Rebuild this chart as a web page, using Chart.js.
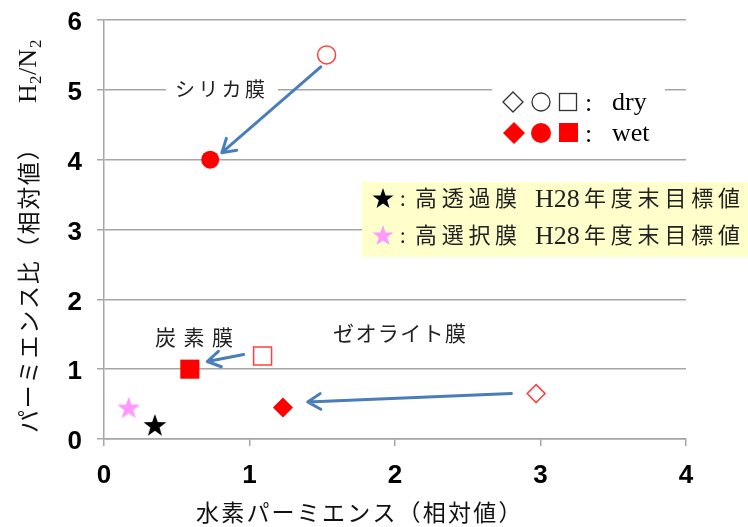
<!DOCTYPE html>
<html>
<head>
<meta charset="utf-8">
<script src="https://cdn.jsdelivr.net/npm/chart.js@4/dist/chart.umd.min.js"></script>
<style>
  html, body { margin: 0; background: #fff; }
  #wrap { width: 748px; height: 527px; position: relative; }
</style>
</head>
<body>
<div id="wrap"><canvas id="c"></canvas></div>
<script>
// --- data ---
const membranes = ['シリカ膜', '炭素膜', 'ゼオライト膜'];
const dryX = [1.53, 1.09, 2.97];   // open marks (dry)
const dryY = [5.50, 1.19, 0.65];
const wetX = [0.73, 0.59, 1.23];   // filled marks (wet)
const wetY = [4.00, 1.00, 0.45];
const targetLabels = ['高透過膜', '高選択膜'];
const targetX = [0.35, 0.17];      // H28 targets (stars)
const targetY = [0.20, 0.45];
// arrows dry -> wet, in data units
const arrowFromX = [1.49, 0.96, 2.80];
const arrowFromY = [5.33, 1.21, 0.65];
const arrowToX = [0.81, 0.71, 1.40];
const arrowToY = [4.10, 1.11, 0.53];
const xTicks = [0, 1, 2, 3, 4];
const yTicks = [0, 1, 2, 3, 4, 5, 6];

const JP = '"Noto Sans CJK JP", "Noto Sans", sans-serif';
const SERIF = '"Liberation Serif", "DejaVu Serif", serif';
const RED = '#ff0000';
const BLUE = '#4a7ebb';

function starImg(color, size) {
  const c = document.createElement('canvas');
  c.width = c.height = size;
  const g = c.getContext('2d');
  starPath(g, size / 2, size / 2 + 1, size / 2, size / 2 * 0.4);
  g.fillStyle = color;
  g.fill();
  return c;
}
function starPath(g, cx, cy, ro, ri) {
  g.beginPath();
  for (let i = 0; i < 10; i++) {
    const r = i % 2 ? ri : ro;
    const a = -Math.PI / 2 + i * Math.PI / 5;
    g.lineTo(cx + r * Math.cos(a), cy + r * Math.sin(a));
  }
  g.closePath();
}

// draw text one char at a time with a fixed advance
function drawSpaced(ctx, text, x, y, adv) {
  [...text].forEach((ch, i) => ctx.fillText(ch, x + i * adv, y));
}

function arrow(ctx, x1, y1, x2, y2) {
  const a = Math.atan2(y2 - y1, x2 - x1), h = 15, s = 0.55;
  ctx.beginPath();
  ctx.moveTo(x1, y1); ctx.lineTo(x2, y2);
  ctx.moveTo(x2 - h * Math.cos(a - s), y2 - h * Math.sin(a - s));
  ctx.lineTo(x2, y2);
  ctx.lineTo(x2 - h * Math.cos(a + s), y2 - h * Math.sin(a + s));
  ctx.stroke();
}

const decor = {
  id: 'decor',
  beforeDatasetsDraw(chart) {
    const { ctx, scales: { x, y } } = chart;
    ctx.save();
    // boxes that sit on top of the gridlines
    ctx.fillStyle = '#fff';
    ctx.fillRect(492, 78, 173, 78);
    ctx.fillRect(166, 78, 112, 22);
    ctx.fillStyle = '#ffffcc';
    ctx.fillRect(362, 182, 386, 75);

    // membrane names
    ctx.fillStyle = '#222';
    ctx.textBaseline = 'middle';
    ctx.font = '20px ' + JP;
    drawSpaced(ctx, membranes[0], 175, 89, 23.3);
    ctx.font = '21px ' + JP;
    drawSpaced(ctx, membranes[1], 155, 337, 28.5);
    drawSpaced(ctx, membranes[2], 333, 333, 22.4);

    // arrows
    ctx.strokeStyle = BLUE;
    ctx.lineWidth = 3;
    ctx.lineCap = 'round';
    ctx.lineJoin = 'round';
    arrowFromX.forEach((v, i) => {
      arrow(ctx, x.getPixelForValue(v), y.getPixelForValue(arrowFromY[i]),
        x.getPixelForValue(arrowToX[i]), y.getPixelForValue(arrowToY[i]));
    });
    ctx.restore();
  },
  afterDraw(chart) {
    const { ctx } = chart;
    ctx.save();
    ctx.fillStyle = '#000';
    ctx.textBaseline = 'middle';

    // dry / wet legend
    ctx.lineWidth = 1.3;
    ctx.strokeStyle = '#333';
    ctx.beginPath();
    ctx.moveTo(503, 102); ctx.lineTo(513, 92); ctx.lineTo(523, 102); ctx.lineTo(513, 112); ctx.closePath();
    ctx.stroke();
    ctx.beginPath(); ctx.arc(541, 102, 9, 0, Math.PI * 2); ctx.stroke();
    ctx.strokeRect(559.5, 93.5, 17, 17);
    ctx.fillStyle = RED;
    ctx.beginPath();
    ctx.moveTo(503, 133); ctx.lineTo(514, 122); ctx.lineTo(525, 133); ctx.lineTo(514, 144); ctx.closePath();
    ctx.fill();
    ctx.beginPath(); ctx.arc(541, 133, 10, 0, Math.PI * 2); ctx.fill();
    ctx.fillRect(559, 123, 19, 19);
    ctx.fillStyle = '#000';
    ctx.font = '26px ' + SERIF;
    ctx.textBaseline = 'alphabetic';
    ctx.fillText(':', 585, 111);
    ctx.fillText(':', 585, 142);
    ctx.fillText('dry', 612, 110);
    ctx.fillText('wet', 612, 141);

    // target notes in yellow box
    const rows = [198, 235];
    targetLabels.forEach((t, i) => {
      const yy = rows[i];
      starPath(ctx, 383, yy + 1, 11, 4.4);
      ctx.fillStyle = i ? '#ff99ff' : '#000';
      ctx.fill();
      ctx.fillStyle = '#222';
      ctx.textBaseline = 'middle';
      ctx.font = '20px ' + JP;
      ctx.fillText(':', 400, yy);
      ctx.font = '22px ' + JP;
      drawSpaced(ctx, t, 415, yy, 26.7);
      ctx.font = '26px ' + SERIF;
      ctx.textBaseline = 'alphabetic';
      ctx.fillText('H28', 535, yy + 9);
      ctx.textBaseline = 'middle';
      ctx.font = '22px ' + JP;
      drawSpaced(ctx, '年度末目標値', 584, yy, 26.8);
    });

    // axis titles
    ctx.fillStyle = '#111';
    ctx.font = '23px ' + JP;
    ctx.textBaseline = 'middle';
    drawSpaced(ctx, '水素パーミエンス（相対値）', 196, 512, 25.2);

    ctx.save();
    ctx.translate(28, 433);
    ctx.rotate(-Math.PI / 2);
    drawSpaced(ctx, 'パーミエンス比（相対値）', 0, 0, 24.8);
    ctx.restore();

    ctx.save();
    ctx.translate(36, 103);
    ctx.rotate(-Math.PI / 2);
    ctx.textBaseline = 'alphabetic';
    ctx.font = '26px ' + SERIF;
    ctx.fillText('H', 0, 0);
    ctx.font = '17px ' + SERIF;
    ctx.fillText('2', 19, 5);
    ctx.font = '26px ' + SERIF;
    ctx.fillText('/N', 28, 0);
    ctx.font = '17px ' + SERIF;
    ctx.fillText('2', 55, 5);
    ctx.restore();

    ctx.restore();
  }
};

const toPts = (xs, ys) => xs.map((v, i) => ({ x: v, y: ys[i] }));
const markerStyle = ['circle', 'rect', 'rectRot'];
const tickFont = { family: '"Liberation Sans", Arial', size: 26, weight: 'bold' };

new Chart(document.getElementById('c'), {
  type: 'scatter',
  data: {
    datasets: [
      { label: 'dry', data: toPts(dryX, dryY),
        pointStyle: markerStyle, pointRadius: [9, 12.7, 9],
        backgroundColor: '#fff', borderColor: '#ff4040', borderWidth: 1.5 },
      { label: 'wet', data: toPts(wetX, wetY),
        pointStyle: markerStyle, pointRadius: [9, 13.5, 10],
        backgroundColor: RED, borderColor: RED, borderWidth: 0 },
      { label: 'target', data: toPts(targetX, targetY),
        pointStyle: [starImg('#000', 24), starImg('#ff99ff', 24)],
        pointRadius: 12, borderWidth: 0 }
    ]
  },
  options: {
    responsive: true, maintainAspectRatio: false, animation: false,
    events: [],
    layout: { padding: { top: 20, right: 62, left: 0, bottom: 0 } },
    plugins: { legend: { display: false }, tooltip: { enabled: false } },
    scales: {
      x: {
        type: 'linear', min: 0, max: 4,
        afterBuildTicks: s => { s.ticks = xTicks.map(v => ({ value: v })); },
        afterFit: s => { s.height = 88; s.paddingLeft = 0; s.paddingRight = 0; },
        ticks: { color: '#000', padding: 14, font: tickFont },
        grid: { drawOnChartArea: false, tickLength: 7, color: '#a6a6a6', lineWidth: 1.5 },
        border: { color: '#a6a6a6', width: 1.5 }
      },
      y: {
        min: 0, max: 6,
        afterBuildTicks: s => { s.ticks = yTicks.map(v => ({ value: v })); },
        afterFit: s => { s.width = 104; s.paddingTop = 0; s.paddingBottom = 0; },
        ticks: { color: '#000', padding: 15, labelOffset: 3, font: tickFont },
        grid: { tickLength: 7, color: '#a6a6a6', lineWidth: 1.5 },
        border: { color: '#a6a6a6', width: 1.5 }
      }
    }
  },
  plugins: [decor]
});
</script>
</body>
</html>
